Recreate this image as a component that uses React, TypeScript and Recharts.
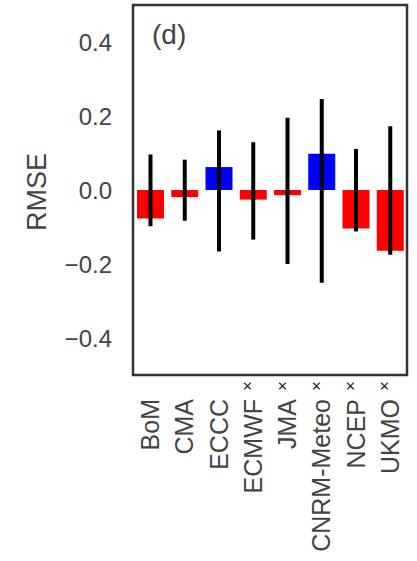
import React from 'react';
import { BarChart, Bar, XAxis, YAxis, Cell, ErrorBar, ReferenceArea } from 'recharts';

const models = ['BoM', 'CMA', 'ECCC', 'ECMWF', 'JMA', 'CNRM-Meteo', 'NCEP', 'UKMO'];
const marked = [false, false, false, true, true, true, true, true];
const rmseDiff = [-0.077, -0.019, 0.062, -0.026, -0.014, 0.098, -0.104, -0.164];
const rangeHigh = [0.096, 0.082, 0.161, 0.129, 0.195, 0.246, 0.111, 0.172];
const rangeLow = [-0.098, -0.083, -0.166, -0.134, -0.2, -0.251, -0.112, -0.175];
const yTicks = [-0.4, -0.2, 0, 0.2, 0.4];

const data = models.map((m, i) => ({
  model: m,
  value: rmseDiff[i],
  // ErrorBar wants offsets from the bar value
  err: [rmseDiff[i] - rangeLow[i], rangeHigh[i] - rmseDiff[i]]
}));

const FONT = '"Liberation Sans", Arial, sans-serif';
const TEXT = '#444';

const fmt = (v: number) => (v < 0 ? '\u2212' : '') + Math.abs(v).toFixed(1);

const ModelTick = (props: any) => {
  const { x, y, payload } = props;
  const i = models.indexOf(payload.value);
  return (
    <g transform={`translate(${x},${y}) rotate(-90)`}>
      <text x={-24} y={0} textAnchor="end" dominantBaseline="central" fontSize={25} fill={TEXT} fontFamily={FONT}>
        {payload.value}
      </text>
      {marked[i] && (
        <text x={-16} y={-5} textAnchor="start" dominantBaseline="central" fontSize={17} fill="#222" fontFamily={FONT}>
          ×
        </text>
      )}
    </g>
  );
};

const YLabel = (props: any) => {
  const { viewBox } = props;
  const cx = viewBox.x + 37;
  const cy = viewBox.y + viewBox.height / 2 + 2;
  return (
    <text x={cx} y={cy} transform={`rotate(-90 ${cx} ${cy})`} textAnchor="middle" dominantBaseline="central"
      fontSize={27} fill={TEXT} fontFamily={FONT}>
      RMSE
    </text>
  );
};

const App: React.FC = () => {
  return (
    <div style={{ position: 'absolute', left: 0, top: 0, background: '#fff' }}>
      <BarChart width={417} height={561} data={data} margin={{ top: 5, right: 10, left: 0, bottom: 0 }}>
        <XAxis
          dataKey="model"
          height={186}
          tickLine={false}
          axisLine={false}
          tickSize={0}
          tickMargin={0}
          interval={0}
          tick={<ModelTick />}
        />
        <YAxis
          width={133}
          domain={[-0.5, 0.5]}
          ticks={yTicks}
          tickFormatter={fmt}
          tickLine={false}
          axisLine={false}
          tickSize={0}
          tickMargin={21}
          tick={{ fontSize: 24, fill: TEXT, fontFamily: FONT }}
          label={{ content: <YLabel /> }}
        />
        <Bar dataKey="value" barSize={27} isAnimationActive={false}>
          {data.map((d, i) => (
            <Cell key={`c-${i}`} fill={d.value < 0 ? '#ff0000' : '#0000ff'} />
          ))}
          <ErrorBar dataKey="err" width={0} stroke="#000" strokeWidth={4} direction="y" />
        </Bar>
        <ReferenceArea
          y1={-0.5}
          y2={0.5}
          fill="none"
          stroke="#333"
          strokeWidth={2.5}
          label={{ value: '(d)', position: 'insideTopLeft', offset: 19, fontSize: 28, fill: TEXT, fontFamily: FONT }}
        />
      </BarChart>
    </div>
  );
};

export default App;
